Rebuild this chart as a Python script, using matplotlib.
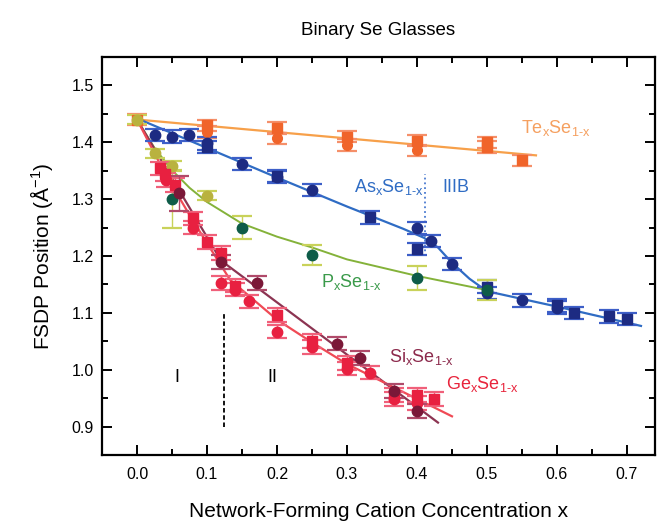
import matplotlib
matplotlib.use('Agg')
import matplotlib.pyplot as plt
from matplotlib.ticker import MultipleLocator, FormatStrFormatter

plt.rcParams['font.family'] = 'Liberation Sans'
plt.rcParams['mathtext.fontset'] = 'custom'
plt.rcParams['mathtext.rm'] = 'Liberation Sans'
plt.rcParams['mathtext.it'] = 'Liberation Sans'

# ---- data ----
# Te_xSe_1-x
te_sq_x = [0.0, 0.1, 0.2, 0.3, 0.4, 0.5, 0.5, 0.55]
te_sq_y = [1.44, 1.43, 1.425, 1.41, 1.403, 1.40, 1.392, 1.368]
te_ci_x = [0.1, 0.2, 0.3, 0.4]
te_ci_y = [1.418, 1.407, 1.395, 1.386]
te_fit_x = [0.0, 0.57]
te_fit_y = [1.44, 1.377]

# As_xSe_1-x
as_ci_x = [0.025, 0.05, 0.075, 0.1, 0.15, 0.2, 0.25, 0.4, 0.42, 0.45, 0.5, 0.55, 0.6]
as_ci_y = [1.413, 1.41, 1.413, 1.398, 1.362, 1.339, 1.316, 1.249, 1.226, 1.186, 1.135, 1.122, 1.109]
as_sq_x = [0.1, 0.2, 0.333, 0.4, 0.5, 0.6, 0.625, 0.675, 0.7]
as_sq_y = [1.392, 1.341, 1.268, 1.212, 1.146, 1.113, 1.10, 1.094, 1.089]
as_fit_x = [0.0, 0.1, 0.2, 0.3, 0.38, 0.41, 0.43, 0.45, 0.475, 0.5, 0.6, 0.72]
as_fit_y = [1.442, 1.39, 1.338, 1.287, 1.248, 1.232, 1.215, 1.188, 1.16, 1.138, 1.111, 1.077]

# P_xSe_1-x
p_ol_x = [0.0, 0.025, 0.05, 0.1]
p_ol_y = [1.44, 1.381, 1.359, 1.306]
p_dk_x = [0.05, 0.15, 0.25, 0.4, 0.5]
p_dk_y = [1.30, 1.25, 1.202, 1.161, 1.14]
p_dk_err = [0.05, 0.02, 0.017, 0.021, 0.018]
p_fit_x = [0.0, 0.025, 0.05, 0.075, 0.1, 0.15, 0.2, 0.25, 0.3, 0.4, 0.5]
p_fit_y = [1.44, 1.39, 1.351, 1.32, 1.295, 1.257, 1.234, 1.215, 1.194, 1.165, 1.14]

# Ge_xSe_1-x
ge_sq_x = [0.033, 0.04, 0.055, 0.08, 0.1, 0.12, 0.14, 0.2, 0.25, 0.3, 0.367, 0.4, 0.425]
ge_sq_y = [1.354, 1.344, 1.325, 1.266, 1.225, 1.205, 1.148, 1.096, 1.05, 1.012, 0.955, 0.955, 0.948]
ge_ci_x = [0.042, 0.08, 0.12, 0.14, 0.16, 0.2, 0.25, 0.3, 0.333, 0.367, 0.4]
ge_ci_y = [1.334, 1.25, 1.153, 1.141, 1.12, 1.067, 1.04, 1.002, 0.995, 0.948, 0.941]
ge_fit_x = [0.0, 0.04, 0.08, 0.133, 0.2, 0.25, 0.3, 0.45]
ge_fit_y = [1.44, 1.345, 1.262, 1.158, 1.088, 1.048, 1.01, 0.918]

# Si_xSe_1-x
si_x = [0.06, 0.12, 0.171, 0.286, 0.319, 0.367, 0.4]
si_y = [1.31, 1.189, 1.152, 1.046, 1.021, 0.962, 0.927]
si_err = [0.03, 0.012, 0.012, 0.012, 0.012, 0.012, 0.012]
si_fit_x = [0.0, 0.12, 0.43]
si_fit_y = [1.44, 1.192, 0.907]

c_te_line, c_te_mk, c_te_txt = '#f7a04a', '#f0642a', '#f5a060'
c_as_line, c_as_mk, c_as_err = '#2f6cc4', '#1d2b82', '#3d5fc8'
c_p_line, c_p_ol, c_p_dk, c_p_err = '#84b23a', '#b9b23e', '#0e5c48', '#c9d25a'
c_ge_line, c_ge_mk, c_ge_err = '#f04a55', '#e82040', '#f0607a'
c_si_line, c_si_mk = '#8c3452', '#7b1838'

fig = plt.figure(figsize=(6.68, 5.21), dpi=100)
ax = fig.add_axes([0.1527, 0.1267, 0.8278, 0.7639])

def pts(x, y, err, fc, ec, m, ms=7.5):
    ax.errorbar(x, y, yerr=err, fmt=m, ms=ms, mfc=fc, mec=fc, ecolor=ec,
                elinewidth=1.0, capsize=7.5, capthick=1.6, zorder=4)

def formula(x, y, el, color):
    # element_x Se_1-x with small, low subscripts
    s = el + r'$_{\mathregular{x}}$Se$_{\text{1-x}}$'
    ax.text(x, y, s, color=color, fontsize=13, va='center')

# fit lines
ax.plot(te_fit_x, te_fit_y, color=c_te_line, lw=1.6, zorder=2)
ax.plot(as_fit_x, as_fit_y, color=c_as_line, lw=1.6, zorder=2)
ax.plot(p_fit_x, p_fit_y, color=c_p_line, lw=1.4, zorder=2)
ax.plot(si_fit_x, si_fit_y, color=c_si_line, lw=1.6, zorder=2)
ax.plot(ge_fit_x, ge_fit_y, color=c_ge_line, lw=1.6, zorder=2)

# data points
pts(te_sq_x, te_sq_y, 0.01, c_te_mk, '#f5906a', 's', 6.5)
pts(te_ci_x, te_ci_y, 0.01, c_te_mk, '#f5906a', 'o', 7)
pts(as_ci_x, as_ci_y, 0.011, c_as_mk, c_as_err, 'o')
pts(as_sq_x, as_sq_y, 0.011, c_as_mk, c_as_err, 's', 7)
pts(p_ol_x, p_ol_y, 0.008, c_p_ol, c_p_err, 'o')
pts(p_dk_x, p_dk_y, p_dk_err, c_p_dk, c_p_err, 'o')
pts(ge_sq_x, ge_sq_y, 0.012, c_ge_mk, c_ge_err, 's', 7)
pts(ge_ci_x, ge_ci_y, 0.012, c_ge_mk, c_ge_err, 'o')
pts(si_x, si_y, si_err, c_si_mk, '#b04a6a', 'o')

# region markers
ax.plot([0.125, 0.125], [0.9, 1.1], color='black', ls='--', lw=1.3, dashes=(2.5, 1.5))
ax.plot([0.412, 0.412], [1.2, 1.345], color='#4a7ad0', ls=':', lw=1.3)

# labels
formula(0.548, 1.425, 'Te', c_te_txt)
formula(0.31, 1.322, 'As', c_as_line)
formula(0.263, 1.155, 'P', '#3a9a4a')
formula(0.36, 1.023, 'Si', '#8c2a4c')
formula(0.442, 0.974, 'Ge', '#e8243c')
ax.text(0.456, 1.32, 'IIIB', color=c_as_line, fontsize=13, va='center', ha='center')
ax.text(0.057, 0.986, 'I', color='black', fontsize=13, va='center', ha='center')
ax.text(0.194, 0.986, 'II', color='black', fontsize=13, va='center', ha='center')

ax.set_xlim(-0.05, 0.74)
ax.set_ylim(0.85, 1.55)
ax.xaxis.set_major_locator(MultipleLocator(0.1))
ax.xaxis.set_minor_locator(MultipleLocator(0.05))
ax.yaxis.set_major_locator(MultipleLocator(0.1))
ax.yaxis.set_minor_locator(MultipleLocator(0.05))
ax.xaxis.set_major_formatter(FormatStrFormatter('%.1f'))
ax.yaxis.set_major_formatter(FormatStrFormatter('%.1f'))
ax.tick_params(which='both', direction='in', top=True, right=True, labelsize=11.5, width=1.4)
ax.tick_params(which='major', length=7, pad=9)
ax.tick_params(which='minor', length=4)
ax.tick_params(axis='y', pad=6)
for s in ax.spines.values():
    s.set_linewidth(1.6)

ax.set_xlabel('Network-Forming Cation Concentration x', fontsize=15, labelpad=14)
ax.set_ylabel(r'FSDP Position ($\mathregular{\AA^{-1}}$)', fontsize=15, labelpad=12)
ax.set_title('Binary Se Glasses', fontsize=13.5, pad=16)

plt.savefig('out.png', dpi=100, facecolor='white')
